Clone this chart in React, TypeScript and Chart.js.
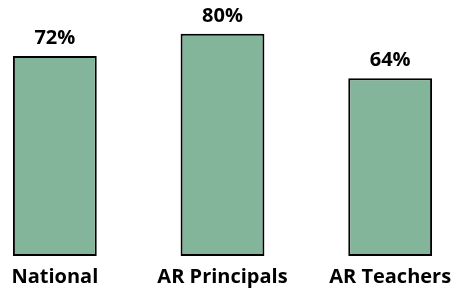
import React, { useEffect, useRef } from "react";
import { Chart, registerables } from "chart.js";

Chart.register(...registerables);

const categories = ["National", "AR Principals", "AR Teachers"];
const values = [72, 80, 64];
const valueLabels = ["72%", "80%", "64%"];

const FONT = "'Open Sans', 'DejaVu Sans', sans-serif";

const valueLabelPlugin = {
  id: "valueLabels",
  afterDatasetsDraw(chart: any) {
    const ctx = chart.ctx;
    const meta = chart.getDatasetMeta(0);
    ctx.save();
    ctx.font = `bold 20px ${FONT}`;
    ctx.fillStyle = "#000";
    ctx.textAlign = "center";
    ctx.textBaseline = "alphabetic";
    meta.data.forEach((bar: any, i: number) => {
      ctx.fillText(valueLabels[i], bar.x, bar.y - 12);
    });
    ctx.restore();
  },
};

export default function App() {
  const ref = useRef<HTMLCanvasElement | null>(null);

  useEffect(() => {
    document.body.style.margin = "0";
    const canvas = ref.current!;
    const chart = new Chart(canvas, {
      type: "bar",
      data: {
        labels: categories,
        datasets: [
          {
            data: values,
            backgroundColor: "#83B59B",
            borderColor: "#000000",
            borderWidth: 2,
            borderSkipped: false,
            categoryPercentage: 1,
            barPercentage: 0.5,
          },
        ],
      },
      options: {
        responsive: false,
        animation: false,
        layout: { padding: { top: 6, bottom: 6, left: 0, right: 0 } },
        plugins: {
          legend: { display: false },
          tooltip: { enabled: false },
        },
        scales: {
          x: {
            grid: { display: false, drawTicks: false },
            border: { display: false },
            ticks: {
              color: "#000",
              padding: 9,
              font: { family: FONT, size: 20, weight: "bold" },
              maxRotation: 0,
              autoSkip: false,
            },
          },
          y: {
            display: false,
            min: 0,
            max: 90,
          },
        },
      },
      plugins: [valueLabelPlugin],
    });
    return () => chart.destroy();
  }, []);

  return (
    <div style={{ position: "relative", width: 456, height: 304, overflow: "hidden" }}>
      <canvas
        ref={ref}
        width={503}
        height={304}
        style={{ position: "absolute", left: -29, top: 0, width: 503, height: 304 }}
      />
    </div>
  );
}
